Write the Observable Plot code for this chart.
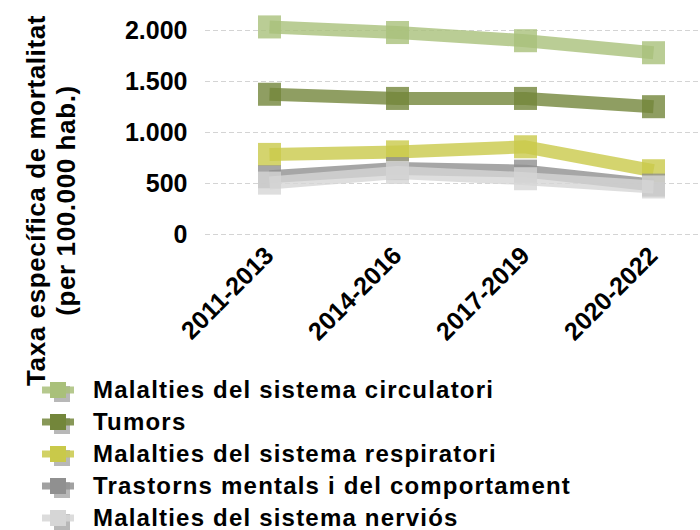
<!DOCTYPE html>
<html>
<head>
<meta charset="utf-8">
<script src="https://cdn.jsdelivr.net/npm/d3@7"></script>
<script src="https://cdn.jsdelivr.net/npm/@observablehq/plot@0.6"></script>
<style>
  body { margin: 0; background: #fff; font-family: "Liberation Sans", Arial, sans-serif; }
  #chart svg { overflow: visible; display: block; }
  #legend { padding-top: 14px; }
  .item { display: flex; align-items: center; height: 32px; font-weight: bold; font-size: 24px; letter-spacing: 1.2px; color: #000; }
  .item svg { margin-left: 37px; flex: none; }
</style>
</head>
<body>
<div id="chart"></div>
<div id="legend"></div>
<script>
// Periods (x axis)
const periods = ["2011-2013", "2014-2016", "2017-2019", "2020-2022"];

// Series names, in legend order
const seriesNames = [
  "Malalties del sistema circulatori",
  "Tumors",
  "Malalties del sistema respiratori",
  "Trastorns mentals i del comportament",
  "Malalties del sistema nerviós"
];

// Mortality rate per 100.000 inhabitants, one array per cause
const circulatori = [2035, 1980, 1900, 1782];
const tumors = [1375, 1334, 1334, 1253];
const respiratori = [785, 810, 860, 625];
const mentals = [566, 646, 621, 484];
const nervios = [504, 608, 547, 466];

const seriesValues = [circulatori, tumors, respiratori, mentals, nervios];
const seriesColors = ["#a9c07a", "#73863b", "#c9c94a", "#909090", "#d6d6d6"];

// Y axis ticks and their labels (Catalan thousands separator)
const yTicks = [0, 500, 1000, 1500, 2000];
const yTickLabels = ["0", "500", "1.000", "1.500", "2.000"];

const yTitle = "Taxa específica de mortalitat\n(per 100.000 hab.)";

const rows = seriesNames.flatMap((name, s) =>
  periods.map((p, i) => ({serie: name, period: p, value: seriesValues[s][i]}))
);

const seriesMarks = seriesNames.flatMap((name, s) => {
  const data = rows.filter(d => d.serie === name);
  return [
    Plot.line(data, {
      x: "period", y: "value",
      stroke: seriesColors[s], strokeOpacity: 0.8, strokeWidth: 13,
      strokeLinecap: "butt", strokeLinejoin: "round"
    }),
    Plot.dot(data, {
      x: "period", y: "value", symbol: "square", r: 13,
      fill: seriesColors[s], fillOpacity: 0.8, stroke: "none"
    })
  ];
});

const chart = Plot.plot({
  width: 700,
  height: 360,
  marginTop: 30,
  marginBottom: 126,
  marginLeft: 205,
  marginRight: 0,
  style: {fontFamily: "'Liberation Sans', Arial, sans-serif", color: "#000", overflow: "visible"},
  x: {type: "point", domain: periods, padding: 0, insetLeft: 64, insetRight: 47},
  y: {domain: [0, 2000]},
  marks: [
    Plot.gridY(yTicks, {stroke: "#d4d4d4", strokeOpacity: 1, strokeDasharray: "5,3"}),
    Plot.axisY(yTicks, {
      tickSize: 0, tickPadding: 18, fontSize: 25, fontWeight: "bold",
      tickFormat: d => yTickLabels[yTicks.indexOf(d)], label: null
    }),
    Plot.axisX({
      tickSize: 0, tickRotate: -45, tickPadding: 17, fontSize: 25, fontWeight: "bold", label: null
    }),
    ...seriesMarks,
    Plot.text([yTitle], {
      text: d => d, frameAnchor: "left", textAnchor: "middle", lineAnchor: "middle",
      rotate: -90, dx: -155, dy: 68,
      fontSize: 26, fontWeight: "bold", lineHeight: 1.15, fill: "#000"
    })
  ]
});
chart.querySelectorAll("text").forEach(t => {
  if (t.textContent.startsWith("Taxa") || t.textContent.startsWith("(per")) t.style.letterSpacing = "0.6px";
});
document.getElementById("chart").append(chart);

// Legend: line with square marker and a soft grey shadow
const legend = d3.select("#legend");
seriesNames.forEach((name, s) => {
  const item = legend.append("div").attr("class", "item");
  const svg = item.append("svg").attr("width", 56).attr("height", 32);
  svg.append("rect").attr("x", 17).attr("y", 12).attr("width", 16).attr("height", 16)
    .attr("fill", "#a6a6a6").attr("opacity", 0.8);
  svg.append("rect").attr("x", 13).attr("y", 8).attr("width", 16).attr("height", 16)
    .attr("fill", seriesColors[s]);
  svg.append("line").attr("x1", 5).attr("x2", 37).attr("y1", 16).attr("y2", 16)
    .attr("stroke", seriesColors[s]).attr("stroke-width", 7).attr("stroke-opacity", 0.85);
  item.append("span").text(name);
});
</script>
</body>
</html>
